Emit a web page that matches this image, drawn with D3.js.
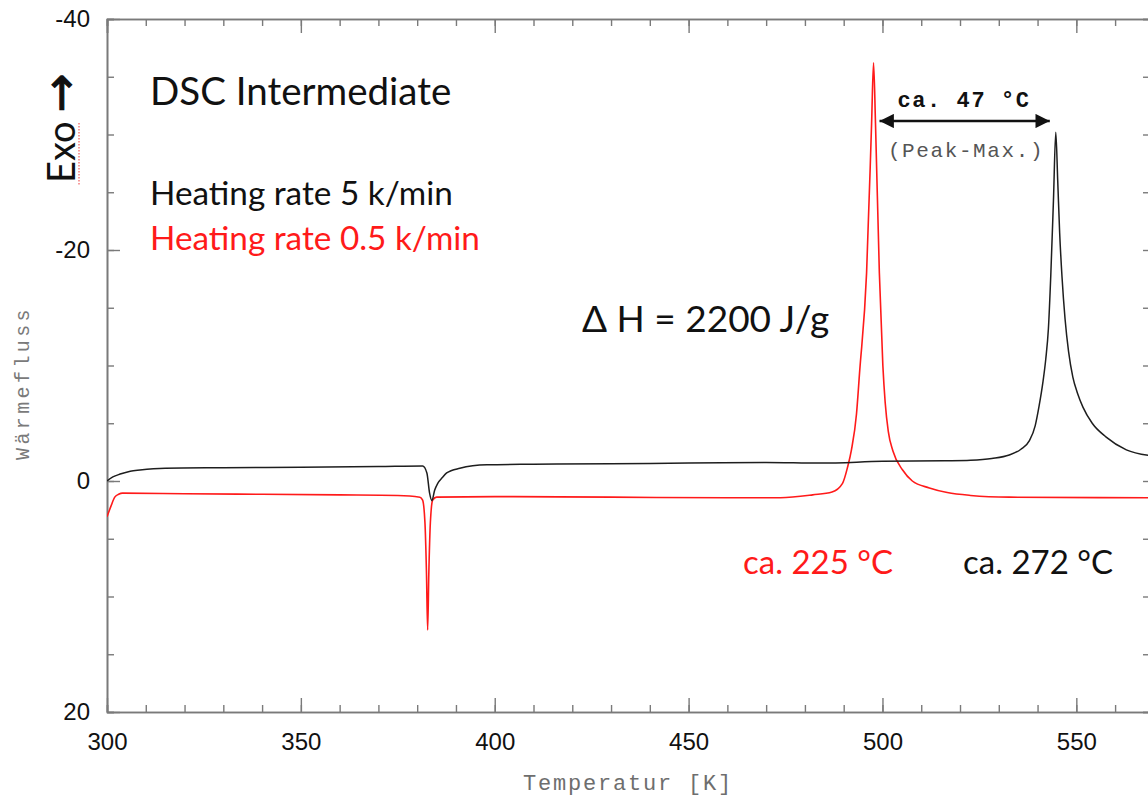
<!DOCTYPE html>
<html>
<head>
<meta charset="utf-8">
<script src="https://cdn.jsdelivr.net/npm/d3@7"></script>
<style>
  body { margin: 0; background: #fff; }
  svg { display: block; }
</style>
</head>
<body>
<script>
// DATA
// heating rate 5 K/min (black)
const blackTemp = [300, 301.5, 303.4, 306, 308.5, 315, 330, 350, 370, 381.4, 382.5, 383.2, 383.8, 384.5, 385.3, 386.5, 387.6, 391, 398, 410, 430, 450, 470, 484, 500, 516, 522.7, 528.2, 532.7, 535.7, 537.9, 539.4, 540.4, 541.4, 542.1, 542.8, 543.4, 544.1, 544.7, 545.2, 545.7, 546.3, 547.1, 548.0, 549.1, 550.3, 551.7, 554.1, 557.7, 562.9, 569];
const blackFlow = [0, -0.35, -0.6, -0.85, -0.95, -1.1, -1.15, -1.2, -1.25, -1.3, -0.7, 1.05, 1.7, 0.8, 0.2, -0.3, -0.7, -1.1, -1.4, -1.45, -1.5, -1.55, -1.6, -1.55, -1.7, -1.75, -1.8, -1.95, -2.25, -2.75, -3.5, -4.8, -6.5, -8.6, -10.5, -13.2, -17.7, -24.3, -30.2, -26, -21.5, -17.7, -14, -11.2, -9, -7.6, -6.4, -5, -3.8, -2.7, -2.2];
// heating rate 0.5 K/min (red)
const redTemp = [300, 301, 302, 303, 304, 320, 340, 360, 375, 380.7, 381.4, 382, 382.4, 382.7, 383, 383.4, 384, 385, 400, 430, 460, 473.7, 482, 487, 489.7, 491, 492, 493.3, 494.1, 495.9, 497.2, 497.7, 498.2, 499.2, 500.1, 500.7, 501.5, 502.7, 505.2, 507.7, 512.1, 516.7, 522.7, 532.7, 569];
const redFlow = [3.1, 2.2, 1.4, 1.15, 1.05, 1.1, 1.15, 1.2, 1.25, 1.4, 1.65, 3.6, 8, 12.9, 8, 3.6, 1.65, 1.4, 1.35, 1.4, 1.45, 1.45, 1.2, 0.95, 0.2, -1.2, -2.7, -5.8, -9.4, -18, -31, -36.2, -31, -18, -10, -6.8, -4.3, -2.6, -0.95, 0, 0.6, 1.0, 1.25, 1.4, 1.45];

const xMajorTicks = [300, 350, 400, 450, 500, 550];
const xMinorTicks = d3.range(300, 570, 10);
const yMajorTicks = [-40, -20, 0, 20];
const yMinorTicks = d3.range(-40, 21, 5);

const peakRed = 497.7;
const peakBlack = 544.7;

// LAYOUT
const width = 1148;
const height = 796;
const margin = { left: 107, top: 19, right: 1150, bottom: 712 };

const svg = d3.select("body").append("svg")
  .attr("width", width)
  .attr("height", height);

const xScale = d3.scaleLinear().domain([300, 569]).range([margin.left, margin.right]);
const yScale = d3.scaleLinear().domain([-40, 20]).range([margin.top, margin.bottom]);

const axisColor = "#7a7a7a";
const tickFont = "'Liberation Sans', Arial, sans-serif";

// AXES
const styleAxis = (g) => {
  g.select(".domain").attr("stroke", axisColor).attr("stroke-width", 1.6);
  g.selectAll(".tick line").attr("stroke", axisColor).attr("stroke-width", 1.4);
  g.selectAll(".tick text").attr("fill", "#111").style("font-family", tickFont).style("font-size", "24px");
};

// minor ticks first, majors on top
svg.append("g").attr("transform", `translate(0,${margin.bottom})`)
  .call(d3.axisBottom(xScale).tickValues(xMinorTicks).tickSize(-7).tickFormat(""))
  .call(styleAxis);
svg.append("g").attr("transform", `translate(0,${margin.bottom})`)
  .call(d3.axisBottom(xScale).tickValues(xMajorTicks).tickSizeInner(-14).tickSizeOuter(0).tickPadding(21).tickFormat((d) => d))
  .call(styleAxis);

svg.append("g").attr("transform", `translate(0,${margin.top})`)
  .call(d3.axisTop(xScale).tickValues(xMinorTicks).tickSize(-7).tickFormat(""))
  .call(styleAxis);
svg.append("g").attr("transform", `translate(0,${margin.top})`)
  .call(d3.axisTop(xScale).tickValues(xMajorTicks).tickSize(-14).tickFormat(""))
  .call(styleAxis);

svg.append("g").attr("transform", `translate(${margin.left},0)`)
  .call(d3.axisLeft(yScale).tickValues(yMinorTicks).tickSize(-7).tickFormat(""))
  .call(styleAxis);
svg.append("g").attr("transform", `translate(${margin.left},0)`)
  .call(d3.axisLeft(yScale).tickValues(yMajorTicks).tickSizeInner(-13).tickSizeOuter(0).tickPadding(17).tickFormat((d) => String(d)))
  .call(styleAxis);

svg.append("g").attr("transform", `translate(${margin.right},0)`)
  .call(d3.axisRight(yScale).tickValues(yMinorTicks).tickSize(-7).tickFormat(""))
  .call(styleAxis);

// AXIS TITLES
svg.append("text")
  .attr("x", 628)
  .attr("y", 790)
  .attr("text-anchor", "middle")
  .attr("fill", "#6e6e6e")
  .style("font-family", "'Liberation Mono', 'Courier New', monospace")
  .style("font-size", "22px")
  .style("letter-spacing", "1.8px")
  .text("Temperatur [K]");

svg.append("text")
  .attr("transform", "translate(29,383) rotate(-90)")
  .attr("text-anchor", "middle")
  .attr("fill", "#7a7a7a")
  .style("font-family", "'Liberation Mono', 'Courier New', monospace")
  .style("font-size", "20px")
  .style("letter-spacing", "3.4px")
  .text("Wärmefluss");

// CURVES
svg.append("clipPath").attr("id", "plot-clip")
  .append("rect")
  .attr("x", margin.left).attr("y", margin.top)
  .attr("width", margin.right - margin.left).attr("height", margin.bottom - margin.top);

const line = d3.line()
  .x((d) => xScale(d[0]))
  .y((d) => yScale(d[1]))
  .curve(d3.curveMonotoneX);

const redData = d3.zip(redTemp, redFlow);
const blackData = d3.zip(blackTemp, blackFlow);

const curves = svg.append("g").attr("clip-path", "url(#plot-clip)");
curves.append("path")
  .datum(redData)
  .attr("d", line)
  .attr("fill", "none")
  .attr("stroke", "#ff1a1a")
  .attr("stroke-width", 1.6);
curves.append("path")
  .datum(blackData)
  .attr("d", line)
  .attr("fill", "none")
  .attr("stroke", "#1e1e1e")
  .attr("stroke-width", 1.5);

// ANNOTATIONS
const sans = "Lato, 'Noto Sans', sans-serif";
const addText = (x, y, str, size, color) =>
  svg.append("text")
    .attr("x", x).attr("y", y)
    .attr("fill", color)
    .style("font-family", sans)
    .style("font-size", `${size}px`)
    .text(str);

addText(150, 105, "DSC Intermediate", 38.5, "#111");
addText(150, 205, "Heating rate 5 k/min", 33.3, "#111");
addText(150, 250, "Heating rate 0.5 k/min", 33.3, "#ff1a1a");
addText(582, 332, "\u0394 H = 2200 J/g", 37, "#111");
addText(743, 574, "ca. 225 °C", 33, "#ff1a1a");
addText(963, 574, "ca. 272 °C", 33, "#111");

// Exo label
svg.append("text")
  .attr("transform", "translate(75,183) rotate(-90)")
  .attr("fill", "#111")
  .style("font-family", sans)
  .style("font-size", "38px")
  .text("Exo");
svg.append("text")
  .attr("transform", "translate(76,112) rotate(-90)")
  .attr("fill", "#111")
  .attr("stroke", "#111")
  .attr("stroke-width", 1.2)
  .style("font-family", "'Noto Sans', 'DejaVu Sans', sans-serif")
  .style("font-size", "46px")
  .text("\u2192");
svg.append("line")
  .attr("x1", 79).attr("x2", 79)
  .attr("y1", 123).attr("y2", 185)
  .attr("stroke", "#f05a5a")
  .attr("stroke-width", 1.2)
  .attr("stroke-dasharray", "1.5,1.5");

// peak distance arrow
const defs = svg.append("defs");
defs.append("marker")
  .attr("id", "head")
  .attr("viewBox", "0 0 10 10")
  .attr("refX", 10).attr("refY", 5)
  .attr("markerWidth", 8).attr("markerHeight", 5.5)
  .attr("orient", "auto-start-reverse")
  .attr("markerUnits", "strokeWidth")
  .append("path")
  .attr("d", "M0,0 L10,5 L0,10 Z")
  .attr("fill", "#111");

svg.append("line")
  .attr("x1", xScale(peakRed) + 6).attr("x2", xScale(peakBlack) - 6)
  .attr("y1", 121).attr("y2", 121)
  .attr("stroke", "#111")
  .attr("stroke-width", 2.6)
  .attr("marker-start", "url(#head)")
  .attr("marker-end", "url(#head)");

svg.append("text")
  .attr("x", 964).attr("y", 107)
  .attr("text-anchor", "middle")
  .attr("fill", "#111")
  .style("font-family", "'Liberation Mono', 'Courier New', monospace")
  .style("font-weight", "bold")
  .style("font-size", "22px")
  .style("letter-spacing", "1.6px")
  .text("ca. 47 °C");

svg.append("text")
  .attr("x", 966).attr("y", 157)
  .attr("text-anchor", "middle")
  .attr("fill", "#555")
  .style("font-family", "'Liberation Mono', 'Courier New', monospace")
  .style("font-size", "21px")
  .style("letter-spacing", "1.6px")
  .text("(Peak-Max.)");
</script>
</body>
</html>
